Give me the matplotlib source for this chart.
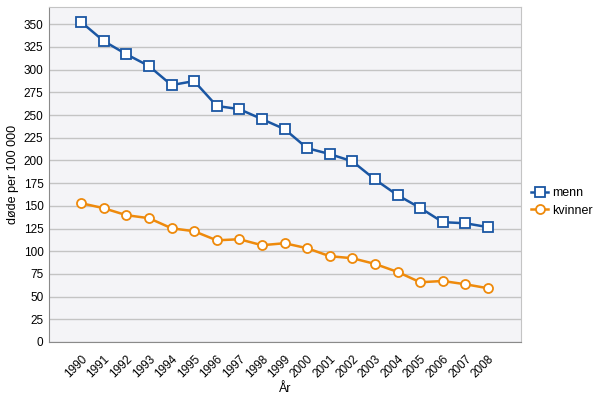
import matplotlib
matplotlib.use("Agg")
import matplotlib.pyplot as plt

years = [str(y) for y in range(1990, 2009)]
menn = [352.5, 331.5, 317, 304, 283, 287.4, 260, 256.5, 245.5, 234.5,
        213.5, 207, 199, 179, 161.7, 147.7, 132, 130.8, 126.5]
kvinner = [152.9, 147.4, 139.7, 136.4, 125.3, 122, 112, 113.2, 106.6, 108.8,
           103.3, 94.5, 92.3, 86, 77.2, 65.8, 67.2, 63.6, 59.2]
yticks = list(range(0, 351, 25))

plt.rcParams["font.family"] = ["Liberation Sans", "DejaVu Sans"]

fig = plt.figure(figsize=(5.95, 3.95), dpi=100)
ax = fig.add_axes([49 / 595, 53 / 395, 472 / 595, 335 / 395])
ax.set_facecolor("#f4f4f7")

x = list(range(len(years)))
ax.plot(x, menn, color="#1a56a3", lw=1.8, marker="s", ms=6.5,
        mfc="white", mec="#1a56a3", mew=1.3, label="menn", zorder=3)
ax.plot(x, kvinner, color="#ee8a0c", lw=1.8, marker="o", ms=6.5,
        mfc="white", mec="#ee8a0c", mew=1.3, label="kvinner", zorder=3)

ax.set_xlim(-1.42, 19.46)
ax.set_ylim(0, 369)
ax.set_yticks(yticks)
ax.set_xticks(x)
ax.set_xticklabels(years, rotation=45, ha="right", rotation_mode="anchor")
ax.tick_params(labelsize=8.5, length=0, pad=4)
ax.tick_params(axis="x", pad=8)
ax.grid(axis="y", color="#c4c4c4", lw=1)
ax.set_axisbelow(True)

for side in ["left", "bottom"]:
    ax.spines[side].set_color("#8a8a8a")
for side in ["top", "right"]:
    ax.spines[side].set_color("#c4c4c4")

ax.set_ylabel("døde per 100 000", fontsize=9, labelpad=3)
ax.set_xlabel("År", fontsize=9, labelpad=2)

ax.legend(loc="center left", bbox_to_anchor=(1.005, 0.418), frameon=False,
          fontsize=9, handlelength=1.4, handletextpad=0.3,
          labelspacing=0.45, borderaxespad=0.2)

fig.savefig("out.png", dpi=100)
